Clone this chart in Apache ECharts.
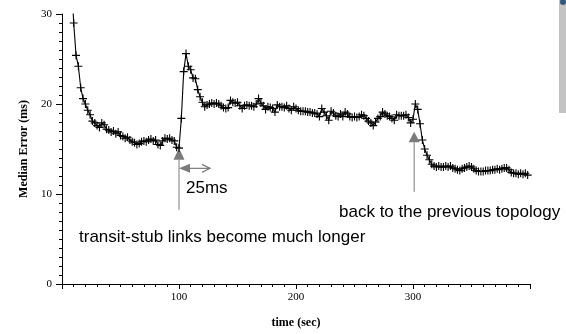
<!DOCTYPE html>
<html><head><meta charset="utf-8">
<script src="https://cdn.jsdelivr.net/npm/echarts@6/dist/echarts.min.js"></script>
<style>html,body{margin:0;padding:0;background:#fff}#c{width:566px;height:334px}</style>
</head><body><div id="c"></div>
<script>
const times = [
  8,10,12,14,16,18,20,22,24,26,
  28,30,32,34,36,38,40,42,44,46,
  48,50,52,54,56,58,60,62,64,66,
  68,70,72,74,76,78,80,82,84,86,
  88,90,92,94,96,98,100,102,104,106,
  108,110,112,114,116,118,120,122,124,126,
  128,130,132,134,136,138,140,142,144,146,
  148,150,152,154,156,158,160,162,164,166,
  168,170,172,174,176,178,180,182,184,186,
  188,190,192,194,196,198,200,202,204,206,
  208,210,212,214,216,218,220,222,224,226,
  228,230,232,234,236,238,240,242,244,246,
  248,250,252,254,256,258,260,262,264,266,
  268,270,272,274,276,278,280,282,284,286,
  288,290,292,294,296,298,300,302,304,306,
  308,310,312,314,316,318,320,322,324,326,
  328,330,332,334,336,338,340,342,344,346,
  348,350,352,354,356,358,360,362,364,366,
  368,370,372,374,376,378,380,382,384,386,
  388,390,392,394,396,398
];
const medianError = [
  34,29.0,25.4,24.2,21.8,20.6,20.0,19.3,18.8,18.1,
  17.9,17.6,17.4,17.9,17.7,17.2,17.1,16.9,17.0,16.7,
  16.9,16.5,16.4,16.2,16.3,16.0,15.8,15.7,15.5,15.6,
  15.8,15.9,15.8,16.0,16.1,15.9,16.0,15.5,15.4,15.9,
  16.2,16.1,16.2,16.0,15.9,15.2,15.1,18.4,23.6,25.6,
  24.2,23.8,22.9,22.8,21.6,20.8,20.2,19.7,19.9,20.0,
  20.1,20.0,20.1,20.0,19.8,19.6,19.5,19.6,20.4,20.2,
  20.1,20.2,19.8,19.5,19.8,19.9,19.8,19.8,19.7,20.0,
  20.6,20.1,19.8,19.4,19.7,19.6,19.5,19.1,19.9,19.7,
  19.7,19.6,19.8,19.5,19.3,19.7,19.5,19.3,19.2,19.2,
  19.2,19.1,19.1,19.0,19.0,18.9,18.6,19.5,19.1,18.7,
  18.2,19.2,19.0,18.7,18.6,18.9,18.6,19.1,18.9,18.6,
  18.5,18.6,18.5,18.6,18.8,18.7,18.4,18.1,17.9,17.6,
  18.0,18.4,18.6,19.1,18.9,18.7,18.6,18.4,18.2,18.8,
  18.7,18.7,18.7,18.8,18.5,17.9,18.3,20.0,19.4,17.8,
  16.0,15.0,14.3,13.8,13.3,13.1,13.0,13.1,13.0,13.0,
  13.1,13.0,13.1,12.9,12.8,12.7,12.6,12.8,12.9,13.0,
  13.1,13.0,12.8,12.6,12.5,12.5,12.5,12.6,12.6,12.6,
  12.7,12.7,12.8,12.7,12.8,12.9,12.9,12.7,12.4,12.3,
  12.3,12.2,12.3,12.2,12.3,12.1
];
const xTicks = { min: 0, max: 400, interval: 100 };
const yTicks = { min: 0, max: 30, interval: 10 };
const annotations = [
  { text: '25ms', x: 186, y: 188 },
  { text: 'transit-stub links become much longer', x: 79, y: 237 },
  { text: 'back to the previous topology', x: 339, y: 212 }
];

const chart = echarts.init(document.getElementById('c'), null, { renderer: 'canvas' });
const serif = '"Liberation Serif", "Times New Roman", serif';
const sans = '"Liberation Sans", Arial, sans-serif';
chart.setOption({
  animation: false,
  backgroundColor: '#fff',
  grid: { left: 62, right: 36, top: 14, bottom: 40, containLabel: false },
  xAxis: {
    type: 'value', min: xTicks.min, max: xTicks.max, interval: xTicks.interval,
    name: 'time (sec)', nameLocation: 'middle', nameGap: 33,
    nameTextStyle: { fontFamily: serif, fontWeight: 'bold', fontSize: 12, color: '#000' },
    axisLine: { show: true, lineStyle: { color: '#000', width: 1 } },
    axisTick: { show: true, length: 5, lineStyle: { color: '#000' } },
    minorTick: { show: true, splitNumber: 10, length: 3, lineStyle: { color: '#000' } },
    splitLine: { show: false },
    axisLabel: { showMinLabel: false, showMaxLabel: false, margin: 8, fontFamily: serif, fontSize: 11, color: '#000' }
  },
  yAxis: {
    type: 'value', min: yTicks.min, max: yTicks.max, interval: yTicks.interval,
    name: 'Median Error (ms)', nameLocation: 'middle', nameGap: 29,
    nameTextStyle: { fontFamily: serif, fontWeight: 'bold', fontSize: 12, color: '#000' },
    axisLine: { show: true, lineStyle: { color: '#000', width: 1 } },
    axisTick: { show: true, length: 6, lineStyle: { color: '#000' } },
    minorTick: { show: true, splitNumber: 10, length: 3, lineStyle: { color: '#000' } },
    splitLine: { show: false },
    axisLabel: { margin: 10, fontFamily: serif, fontSize: 11, color: '#000' }
  },
  series: [{
    type: 'line',
    data: times.map((t, i) => [t, medianError[i]]),
    clip: true,
    symbol: 'path://M5,0L5,10M0,5L10,5',
    symbolSize: 8,
    showAllSymbol: true,
    lineStyle: { color: '#000', width: 1.1 },
    itemStyle: { color: 'none', borderColor: '#000', borderWidth: 1.1 },
    emphasis: { disabled: true }
  }]
});

const P = (x, y) => chart.convertToPixel({ gridIndex: 0 }, [x, y]);
const gray = '#7a7a7a';
function upArrow(t, apexY, baseY, endY) {
  const a = P(t, apexY), b = P(t, baseY), e = P(t, endY);
  return [
    { type: 'line', shape: { x1: a[0], y1: b[1], x2: e[0], y2: e[1] }, style: { stroke: gray, lineWidth: 1 } },
    { type: 'polygon', shape: { points: [[a[0], a[1]], [a[0] - 5.5, b[1]], [a[0] + 5.5, b[1]]] }, style: { fill: gray } }
  ];
}
const g = [];
g.push(...upArrow(100, 15.1, 13.8, 8.25));
g.push(...upArrow(301, 16.93, 15.75, 10.25));
const l = P(100, 12.85), r = P(126.5, 12.85);
g.push({ type: 'line', shape: { x1: l[0] + 6, y1: l[1], x2: r[0], y2: r[1] }, style: { stroke: gray, lineWidth: 1.2 } });
g.push({ type: 'polygon', shape: { points: [[l[0], l[1]], [l[0] + 11, l[1] - 4.5], [l[0] + 11, l[1] + 4.5]] }, style: { fill: gray } });
g.push({ type: 'polyline', shape: { points: [[r[0] - 8, r[1] - 4], [r[0], r[1]], [r[0] - 8, r[1] + 4]] }, style: { stroke: gray, lineWidth: 1.2, fill: 'none' } });
annotations.forEach(a => g.push({
  type: 'text', x: a.x, y: a.y,
  style: { text: a.text, fill: '#000', font: '17px ' + sans, textVerticalAlign: 'middle', textAlign: 'left' }
}));
g.push({ type: 'rect', shape: { x: 559, y: 0, width: 7, height: 113 }, style: { fill: '#c3c3c3' } });
g.push({ type: 'circle', shape: { cx: 563, cy: 2, r: 3 }, style: { fill: '#2c5a7e' } });
chart.setOption({ graphic: g });
</script>
</body></html>
